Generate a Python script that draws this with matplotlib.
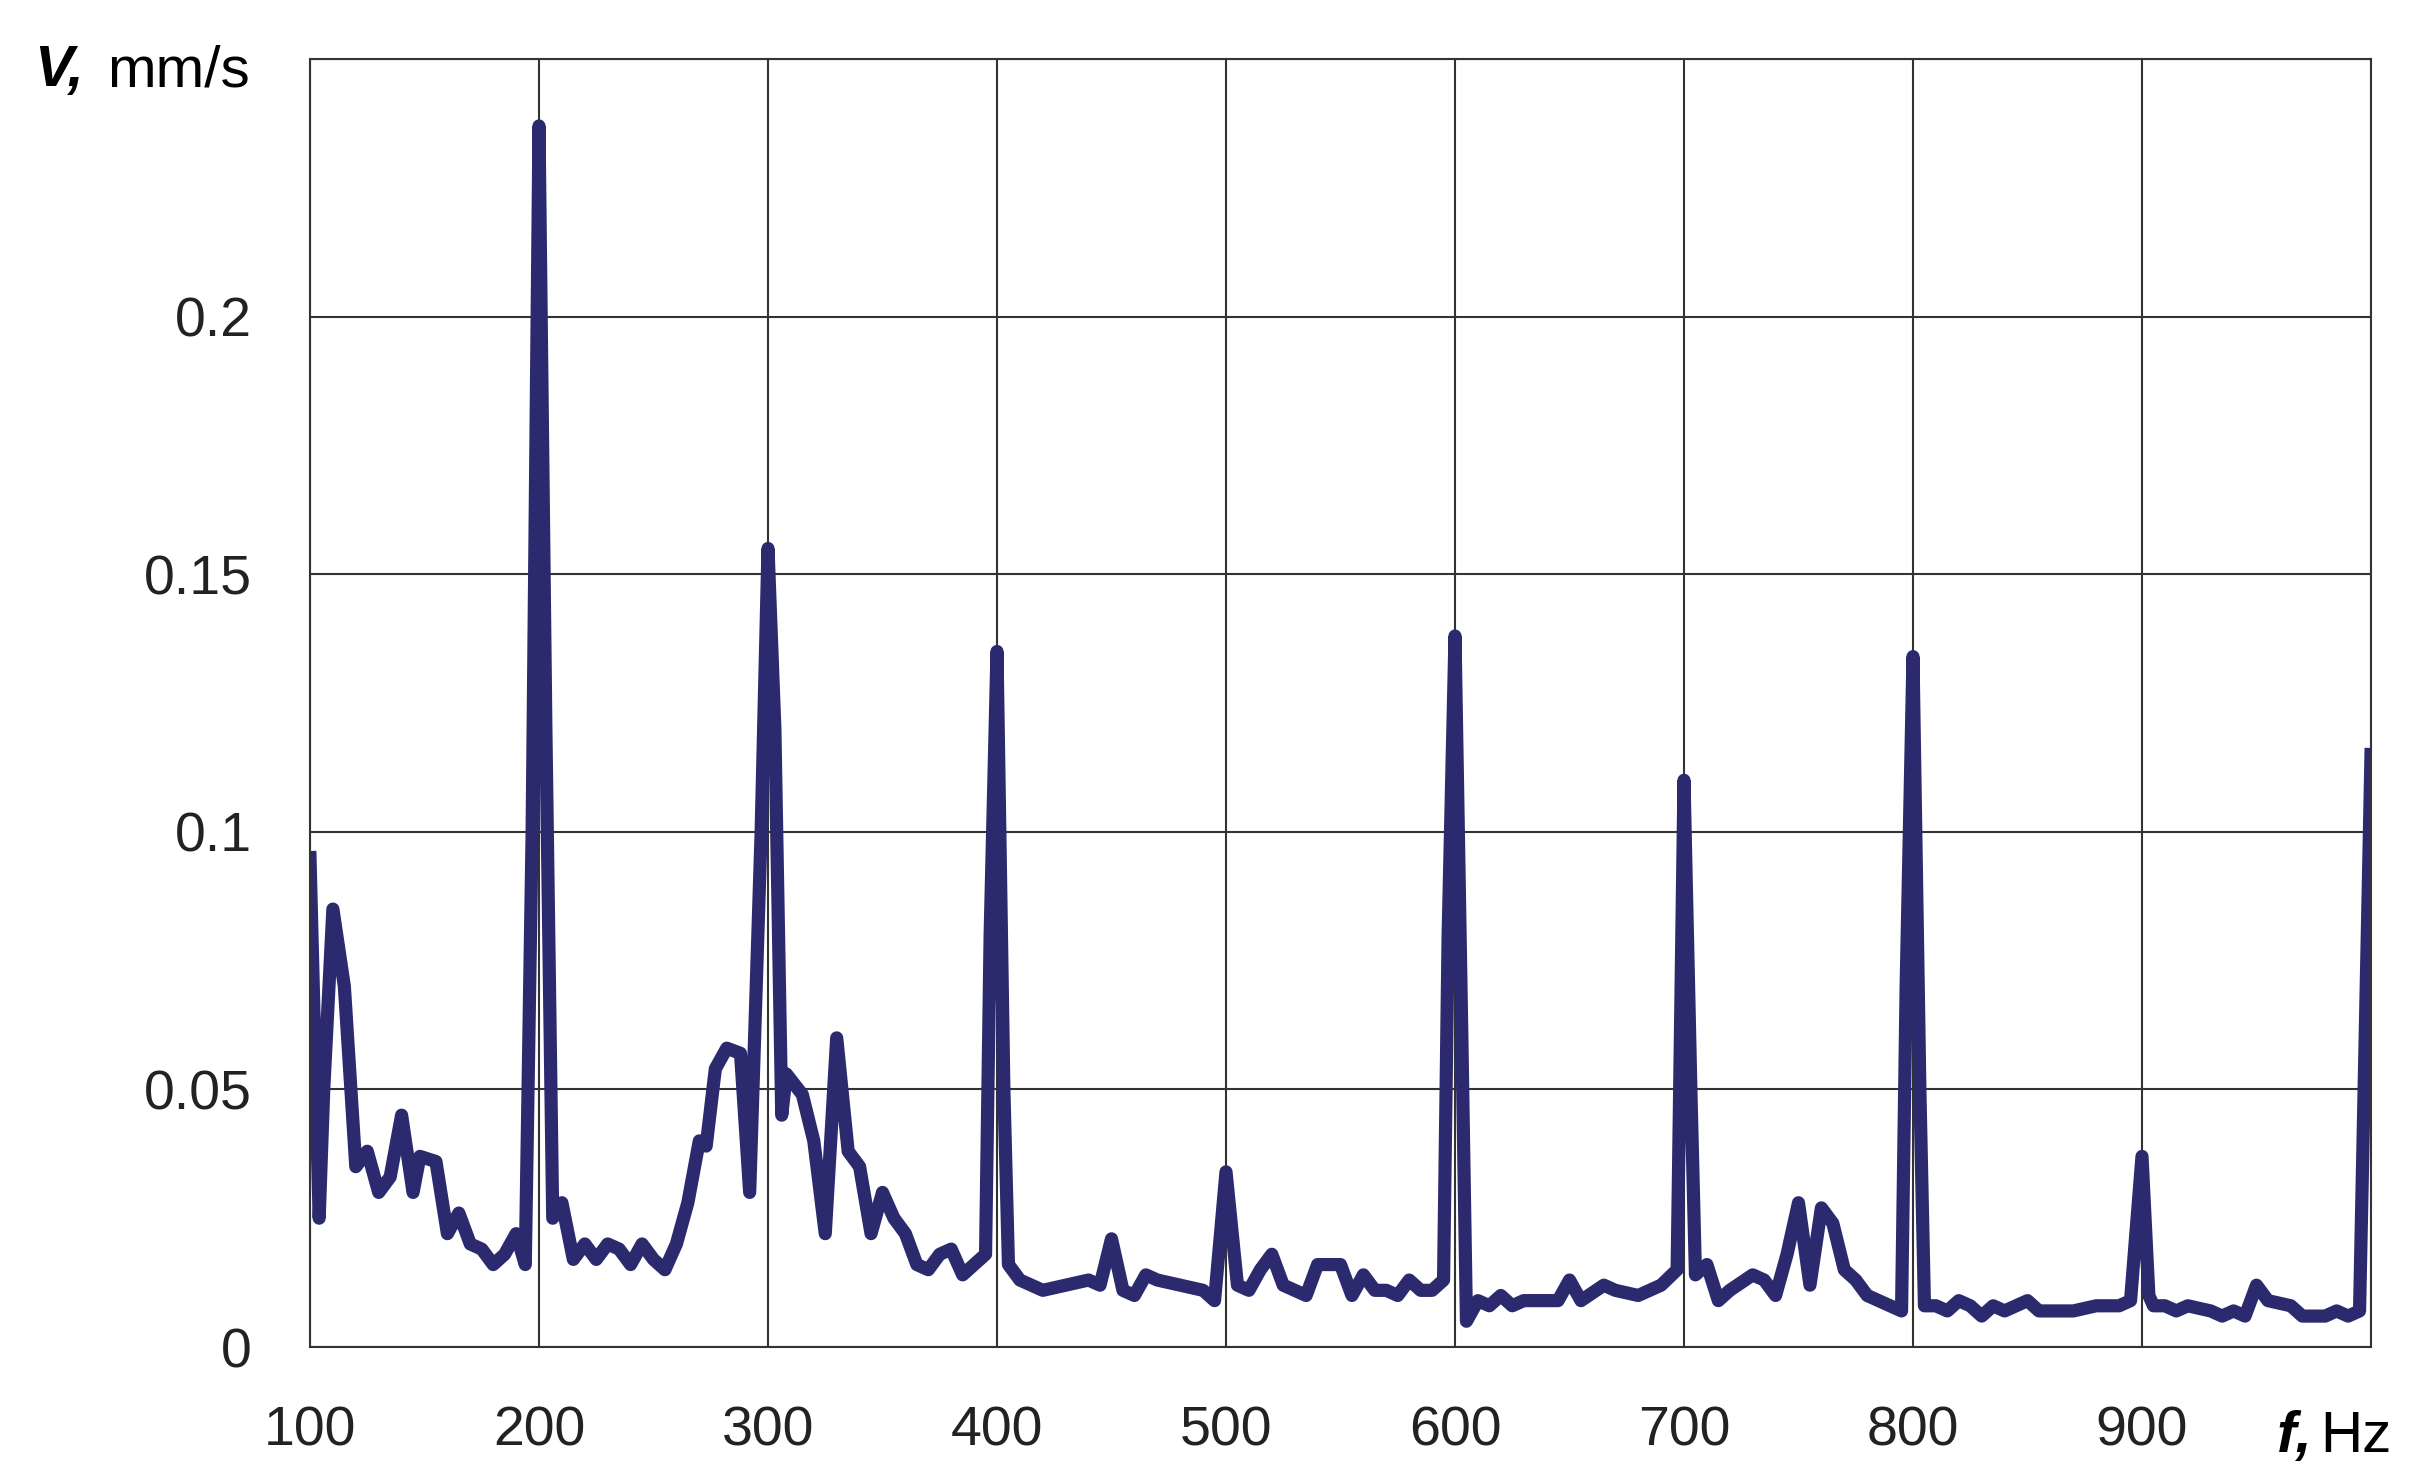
import matplotlib
matplotlib.use("Agg")
import matplotlib.pyplot as plt

freq = [100, 102, 104, 106, 110, 115, 120, 125, 130, 135, 140, 145, 148, 155, 160, 165, 170,
        175, 180, 185, 190, 194, 197, 200, 203, 206, 210, 215, 220, 225, 230, 235, 240, 245,
        250, 255, 260, 265, 270, 273, 277, 282, 288, 292, 297, 300, 303, 306, 308, 315, 320,
        325, 330, 335, 340, 345, 350, 355, 360, 365, 370, 375, 380, 385, 390, 395, 397, 400,
        403, 405, 410, 420, 430, 440, 445, 450, 455, 460, 465, 470, 480, 490, 495, 500, 505,
        510, 515, 520, 525, 535, 540, 545, 550, 555, 560, 565, 570, 575, 580, 585, 590, 595,
        597, 600, 603, 605, 610, 615, 620, 625, 630, 640, 645, 650, 655, 665, 670, 680, 690,
        697, 700, 703, 705, 710, 715, 720, 730, 735, 740, 745, 750, 755, 760, 765, 770, 775,
        780, 785, 790, 795, 797, 800, 803, 805, 810, 815, 820, 825, 830, 835, 840, 845, 850,
        855, 865, 870, 880, 890, 895, 900, 903, 905, 910, 915, 920, 930, 935, 940, 945, 950,
        955, 965, 970, 980, 985, 990, 995, 1000]
velocity = [0.095, 0.06, 0.025, 0.05, 0.085, 0.07, 0.035, 0.038, 0.03, 0.033, 0.045, 0.03,
            0.037, 0.036, 0.022, 0.026, 0.02, 0.019, 0.016, 0.018, 0.022, 0.016, 0.1, 0.237,
            0.12, 0.025, 0.028, 0.017, 0.02, 0.017, 0.02, 0.019, 0.016, 0.02, 0.017, 0.015,
            0.02, 0.028, 0.04, 0.039, 0.054, 0.058, 0.057, 0.03, 0.1, 0.155, 0.12, 0.045,
            0.053, 0.049, 0.04, 0.022, 0.06, 0.038, 0.035, 0.022, 0.03, 0.025, 0.022, 0.016,
            0.015, 0.018, 0.019, 0.014, 0.016, 0.018, 0.08, 0.135, 0.05, 0.016, 0.013, 0.011,
            0.012, 0.013, 0.012, 0.021, 0.011, 0.01, 0.014, 0.013, 0.012, 0.011, 0.009, 0.034,
            0.012, 0.011, 0.015, 0.018, 0.012, 0.010, 0.016, 0.016, 0.016, 0.01, 0.014, 0.011,
            0.011, 0.01, 0.013, 0.011, 0.011, 0.013, 0.08, 0.138, 0.06, 0.005, 0.009, 0.008,
            0.01, 0.008, 0.009, 0.009, 0.009, 0.013, 0.009, 0.012, 0.011, 0.01, 0.012, 0.015,
            0.11, 0.05, 0.014, 0.016, 0.009, 0.011, 0.014, 0.013, 0.01, 0.018, 0.028, 0.012,
            0.027, 0.024, 0.015, 0.013, 0.01, 0.009, 0.008, 0.007, 0.07, 0.134, 0.05, 0.008,
            0.008, 0.007, 0.009, 0.008, 0.006, 0.008, 0.007, 0.008, 0.009, 0.007, 0.007, 0.007,
            0.008, 0.008, 0.009, 0.037, 0.01, 0.008, 0.008, 0.007, 0.008, 0.007, 0.006, 0.007,
            0.006, 0.012, 0.009, 0.008, 0.006, 0.006, 0.007, 0.006, 0.007, 0.115]

x_ticks = [100, 200, 300, 400, 500, 600, 700, 800, 900]
y_ticks = [0, 0.05, 0.1, 0.15, 0.2]
y_labels = ["0", "0.05", "0.1", "0.15", "0.2"]

plt.rcParams["font.family"] = ["Liberation Sans", "DejaVu Sans"]
fig = plt.figure(figsize=(24.27, 14.81), dpi=100)
ax = fig.add_axes([310 / 2427, 1 - 1347 / 1481, 2061 / 2427, 1288 / 1481])

ax.plot(freq, velocity, color="#2b2a6e", lw=9.5)
ax.set_xlim(100, 1000)
ax.set_ylim(0, 0.25)
ax.set_xticks(x_ticks + [1000])
ax.set_xticklabels([str(t) for t in x_ticks] + [""])
ax.set_yticks(y_ticks + [0.25])
ax.set_yticklabels(y_labels + [""])
ax.tick_params(axis="x", length=0, labelsize=40, colors="#222222", pad=42)
ax.tick_params(axis="y", length=0, labelsize=40, colors="#222222", pad=42)
ax.grid(True, color="#333333", lw=1.5)
for s in ax.spines.values():
    s.set_color("#333333")
    s.set_linewidth(1.5)

fig.text(0.014, 0.952, "V,", fontsize=42, fontweight="bold", fontstyle="italic", va="center")
fig.text(0.044, 0.952, "mm/s", fontsize=42, va="center")
fig.text(0.938, 0.03, "f,", fontsize=42, fontweight="bold", fontstyle="italic", va="center")
fig.text(0.956, 0.03, "Hz", fontsize=42, va="center")

fig.savefig("out.png")
